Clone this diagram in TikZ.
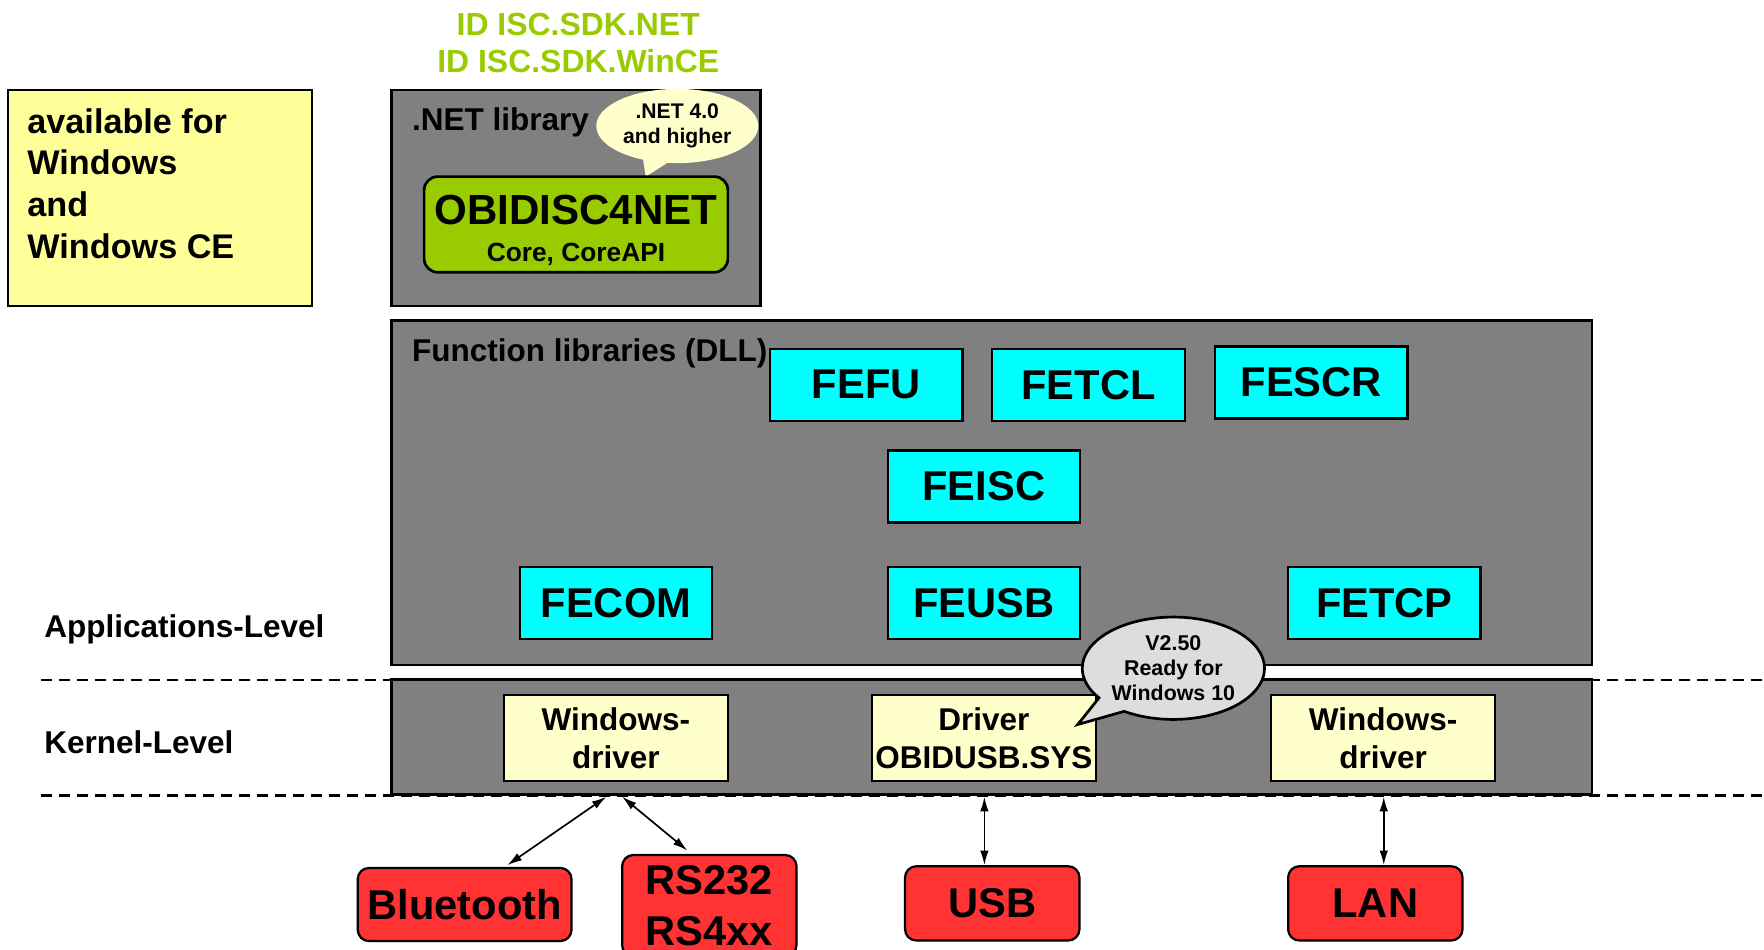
\documentclass[tikz,border=0pt]{standalone}
\usepackage{fontspec}
\setmainfont{Liberation Sans}
\usetikzlibrary{shapes.callouts,shapes.geometric,arrows.meta,calc}
\definecolor{grayfill}{HTML}{808080}
\definecolor{availyellow}{HTML}{FFFF99}
\definecolor{paleyellow}{HTML}{FFFFCC}
\definecolor{limegreen}{HTML}{99CC00}
\definecolor{cyanbox}{HTML}{00FFFF}
\definecolor{redbox}{HTML}{FF3333}
\definecolor{calloutgray}{HTML}{DDDDDD}
\newcommand\fsz[2]{\fontsize{#1pt}{#2pt}\selectfont\bfseries}
\begin{document}
\begin{tikzpicture}[x=0.5pt,y=-0.5pt,
  graypanel/.style={draw=black,line width=1.2pt,fill=grayfill,inner sep=0pt},
  libbox/.style={draw=black,line width=1pt,fill=cyanbox,minimum width=85.5pt,minimum height=32pt,inner sep=0pt,font=\fsz{18.5}{20}},
  drvbox/.style={draw=black,line width=1pt,fill=paleyellow,minimum width=99.5pt,minimum height=38.5pt,inner sep=0pt,align=center,font=\fsz{14}{17}},
  portbox/.style={draw=black,line width=1pt,fill=redbox,rounded corners=5pt,minimum height=32.5pt,inner sep=0pt,align=center,font=\fsz{18.5}{23}},
  leftlabel/.style={anchor=base west,inner sep=0pt,font=\fsz{14}{17}},
  dashline/.style={line width=1pt,dash pattern=on 5pt off 3pt},
  link/.style={line width=0.75pt,{Latex[length=6.5pt,width=3.8pt]}-{Latex[length=6.5pt,width=3.8pt]}}
]
\useasboundingbox (0,0) rectangle (1568,844);
\clip (0,0) rectangle (1568,844);

% title
\node[anchor=north,inner sep=0pt,align=center,text=limegreen,font=\fsz{14.2}{16.5}] (title) at (514,11) {ID ISC.SDK.NET\\ID ISC.SDK.WinCE};

% availability note
\node[draw=black,line width=0.8pt,fill=availyellow,minimum width=135pt,minimum height=96pt,inner sep=0pt] (avail) at (142,176) {};
\node[anchor=north west,inner sep=0pt,align=left,font=\fsz{15.2}{18.5}] (availtext) at (24,96) {available for\\Windows\\and\\Windows CE};

% .NET library panel
\node[graypanel,minimum width=164pt,minimum height=96pt] (netbox) at (512,176) {};
\node[leftlabel] (nettitle) at (366,116) {.NET library};
\node[ellipse callout,fill=paleyellow,minimum width=72pt,minimum height=33pt,inner sep=0pt,align=center,font=\fsz{9.4}{11.25},callout absolute pointer={(574,157)},callout pointer arc=18] (netcall) at (602,112) {.NET 4.0\\and higher};
\node[draw=black,line width=1.2pt,fill=limegreen,rounded corners=6pt,minimum width=135pt,minimum height=42.5pt,inner sep=0pt,align=center] (obid) at (512,199.5) {{\fsz{18.7}{15.5}\rule{0pt}{18.4pt}OBIDISC4NET}\\[4.5pt]{\fsz{11.7}{15.5}Core, CoreAPI}};

% function libraries panel
\node[graypanel,minimum width=533.5pt,minimum height=153pt] (funcbox) at (881.5,438) {};
\node[leftlabel] (functitle) at (366,321) {Function libraries (DLL)};
\node[libbox] (fefu) at (770,342) {FEFU};
\node[libbox] (fetcl) at (967.5,342) {FETCL};
\node[libbox] (fescr) at (1165.5,340) {FESCR};
\node[libbox] (feisc) at (874.5,432.5) {FEISC};
\node[libbox] (fecom) at (547.5,536) {FECOM};
\node[libbox] (feusb) at (874.5,536) {FEUSB};
\node[libbox] (fetcp) at (1230.5,536) {FETCP};

% kernel panel
\node[graypanel,minimum width=533.5pt,minimum height=51pt] (kernel) at (881.5,655) {};
\node[drvbox] (winL) at (547.5,656) {Windows-\\driver};
\node[drvbox] (winM) at (874.5,656) {Driver\\OBIDUSB.SYS};
\node[drvbox] (winR) at (1229.5,656) {Windows-\\driver};

% level labels and separators
\node[leftlabel] (applevel) at (39,567) {Applications-Level};
\node[leftlabel] (kernlevel) at (39,670) {Kernel-Level};
\coordinate (dashAL) at (36,604.5);
\coordinate (dashAR) at (1568,604.5);
\coordinate (dashBL) at (36,707);
\coordinate (dashBR) at (1568,707);
\draw[dashline] (dashAL) -- (dashAR);
\draw[dashline] (dashBL) -- (dashBR);

% version callout
\node[ellipse callout,draw=black,line width=1.2pt,fill=calloutgray,minimum width=81pt,minimum height=45.5pt,inner sep=0pt,align=center,font=\fsz{9.5}{11.25},callout absolute pointer={(958,644)},callout pointer arc=22] (vcall) at (1043,594) {V2.50\\Ready for\\Windows 10};

% ports
\node[portbox,minimum width=95pt] (bt) at (413,804) {Bluetooth};
\node[portbox,minimum width=77.5pt,minimum height=45pt] (rs) at (630.5,805) {RS232\\RS4xx};
\node[portbox,minimum width=77.5pt,minimum height=33pt] (usb) at (882,803) {USB};
\node[portbox,minimum width=77.5pt,minimum height=33pt] (lan) at (1222.5,803) {LAN};

% connectors
\draw[link] ($(winL.south |- kernel.south)+(-8.5,1)$) -- ($(bt.north)+(38,-1.5)$);
\draw[link] ($(winL.south |- kernel.south)+(5.5,1)$) -- ($(rs.north)+(-19.5,-3)$);
\draw[link] ($(winM.south |- kernel.south)+(0.5,1)$) -- ($(winM.south |- usb.north)+(0.5,0)$);
\draw[link] ($(winR.south |- kernel.south)+(0.5,1)$) -- ($(winR.south |- lan.north)+(0.5,0)$);
\end{tikzpicture}
\end{document}
